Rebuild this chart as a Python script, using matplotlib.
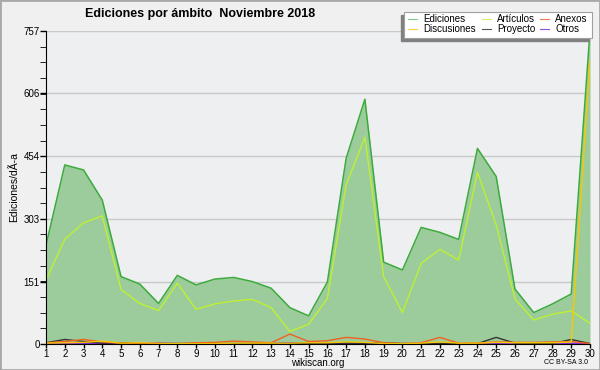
import matplotlib.pyplot as plt
from matplotlib.patches import Rectangle

days = list(range(1, 31))
ediciones = [239, 433, 421, 348, 163, 145, 98, 166, 143, 157, 161, 151, 135, 88, 68,
             150, 449, 592, 198, 179, 282, 270, 253, 473, 405, 133, 76, 97, 121, 757]
articulos = [155, 253, 293, 310, 132, 98, 81, 147, 84, 97, 104, 108, 88, 30, 48,
             110, 385, 500, 163, 76, 195, 229, 203, 415, 288, 109, 58, 72, 80, 50]
anexos = [3, 6, 11, 5, 2, 1, 1, 1, 3, 4, 7, 5, 3, 24, 6,
          8, 16, 12, 3, 1, 3, 16, 2, 2, 5, 4, 4, 5, 6, 1]
discusiones = [2, 3, 4, 7, 2, 3, 2, 1, 1, 1, 2, 2, 2, 2, 3,
               3, 5, 4, 1, 1, 2, 5, 2, 2, 4, 3, 3, 3, 5, 685]
proyecto = [3, 11, 6, 2, 3, 1, 1, 1, 1, 1, 1, 1, 1, 1, 2,
            2, 2, 2, 3, 1, 1, 1, 1, 1, 16, 2, 1, 1, 11, 1]
otros = [1, 1, 1, 1, 1, 1, 3, 1, 1, 1, 1, 1, 2, 3, 1,
         1, 1, 1, 1, 1, 1, 1, 1, 1, 1, 1, 1, 1, 1, 1]
ymax = 757

plt.rcParams['font.family'] = ['Liberation Sans', 'DejaVu Sans']

fig = plt.figure(figsize=(6, 3.7), dpi=100, facecolor='#f0f0f0')
fig.patches.append(Rectangle((0, 0), 1, 1, transform=fig.transFigure, fill=False,
                             edgecolor='#a8a8a8', lw=2))
ax = fig.add_axes([46 / 600, 1 - 344 / 370, 544 / 600, 313 / 370])
ax.set_facecolor('#eeeff1')

ax.fill_between(days, ediciones, 0, color='#9ccc9c', lw=0)
ax.plot(days, ediciones, color='#3caa3c', lw=1.1)
ax.plot(days, articulos, color='#bef032', lw=1.0)
ax.plot(days, otros, color='#8a2be2', lw=1.0)
ax.plot(days, proyecto, color='#333333', lw=1.0)
ax.plot(days, anexos, color='#f06020', lw=1.0)
ax.plot(days, discusiones, color='#f8c800', lw=1.0)

ax.set_xlim(1, 30)
ax.set_ylim(0, ymax)
major = [round(ymax * i / 5) for i in range(6)]
ax.set_yticks(major)
ax.set_yticks([ymax * i / 20 for i in range(21)], minor=True)
ax.set_xticks(days)
ax.tick_params(axis='both', labelsize=7, width=1, pad=0.5)
ax.tick_params(axis='x', length=3)
ax.tick_params(axis='y', which='both', length=4)
ax.grid(axis='y', color='#c8c8c8', lw=1)
ax.set_axisbelow(True)
for s in ['top', 'right']:
    ax.spines[s].set_visible(False)
ax.set_ylabel('Ediciones/dÃ-a', fontsize=7.5, labelpad=3)

fig.text(200 / 600, 1 - 14 / 370, 'Ediciones por ámbito  Noviembre 2018',
         ha='center', va='center', fontsize=9, fontweight='bold')
fig.text(318 / 600, 1 - 363 / 370, 'wikiscan.org', ha='center', va='center', fontsize=7)
fig.text(588 / 600, 1 - 363 / 370, 'CC BY-SA 3.0', ha='right', va='center', fontsize=5)

# legend box, shadow falls to the lower left
lx0, ly0, lw_, lh_ = 404, 12, 188, 26
fig.patches.append(Rectangle(((lx0 - 3) / 600, 1 - (ly0 + lh_ + 3) / 370), lw_ / 600, lh_ / 370,
                             transform=fig.transFigure, color='#808080', zorder=5))
fig.patches.append(Rectangle((lx0 / 600, 1 - (ly0 + lh_) / 370), lw_ / 600, lh_ / 370,
                             transform=fig.transFigure, facecolor='white',
                             edgecolor='#a0a0a0', lw=0.8, zorder=6))
names = ['Ediciones', 'Artículos', 'Anexos', 'Discusiones', 'Proyecto', 'Otros']
colors = ['#80cc80', '#d0f060', '#f08050', '#f8d040', '#555555', '#9050e0']
for i, (n, c) in enumerate(zip(names, colors)):
    cx = [408, 482, 540][i % 3]
    cy = [19, 29][i // 3]
    fig.lines.append(plt.Line2D([cx / 600, (cx + 9) / 600], [1 - cy / 370, 1 - cy / 370],
                                transform=fig.transFigure, color=c, lw=0.8, zorder=7))
    fig.text((cx + 15) / 600, 1 - cy / 370, n, ha='left', va='center', fontsize=7, zorder=7)

fig.savefig('out.png', dpi=100, facecolor=fig.get_facecolor())
